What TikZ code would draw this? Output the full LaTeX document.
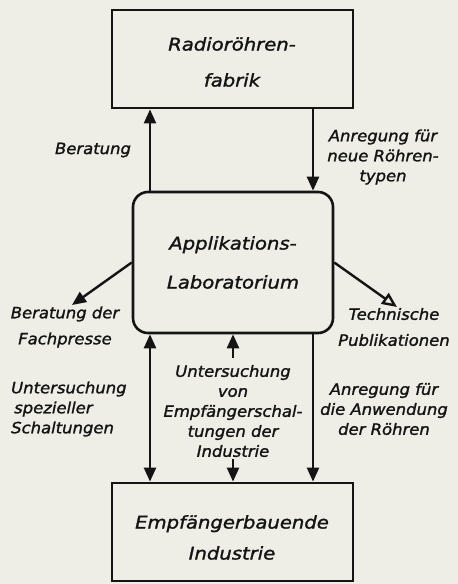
\documentclass[tikz,border=0pt]{standalone}
\usepackage{fontspec}
\newfontfamily\lblfont[FakeStretch=1.06,FakeBold=1.5]{DejaVu Sans}
\newfontfamily\boxfont[FakeStretch=1.12,FakeBold=1.5]{DejaVu Sans}
\usetikzlibrary{arrows.meta}
\definecolor{bgcol}{rgb}{0.935,0.935,0.905}
\definecolor{inkcol}{rgb}{0.08,0.08,0.08}
\begin{document}
\begin{tikzpicture}[x=1pt,y=-1pt,
  boxtext/.style={font=\boxfont\itshape\fontsize{17.5}{36}\selectfont, align=center, inner sep=0pt, text=inkcol},
  lbl/.style={font=\lblfont\itshape\fontsize{15.5}{20}\selectfont, align=center, inner sep=0pt, text=inkcol},
  frame/.style={draw=inkcol, line width=2.8pt, inner sep=0pt},
  conn/.style={draw=inkcol, line width=2.4pt},
  tipE/.style={-{Triangle[length=14pt,width=12pt]}},
  tipO/.style={-{Triangle[open,length=15pt,width=13pt,line width=2.4pt]}},
  tipB/.style={{Triangle[length=14pt,width=12pt]}-{Triangle[length=14pt,width=12pt]}}
]
\useasboundingbox (0,0) rectangle (458,584);
\fill[bgcol] (0,0) rectangle (458,584);

% boxes
\node[frame, minimum width=241pt, minimum height=98pt] (top) at (232.5,59) {};
\node[boxtext] (toptext) at (232,62) {Radioröhren-\\fabrik};

\node[frame, rounded corners=15pt, line width=2.6pt, minimum width=200pt, minimum height=141pt] (lab) at (233,262.5) {};
\node[boxtext, font=\boxfont\itshape\fontsize{17.5}{39}\selectfont] (labtext) at (233,262.5) {Applikations-\\Laboratorium};

\node[frame, minimum width=241pt, minimum height=98pt] (bot) at (232.5,532) {};
\node[boxtext, font=\boxfont\itshape\fontsize{17.5}{31}\selectfont] (bottext) at (232,537.5) {Empfängerbauende\\Industrie};

% x positions
\coordinate (xl) at (150,0);
\coordinate (xm) at (233,0);
\coordinate (xr) at (313,0);
\coordinate (dl) at (72,305);
\coordinate (dr) at (397,307);
\coordinate (mu) at (233,358);
\coordinate (md) at (233,459);

% connectors
\draw[conn, tipE] (xl |- lab.north) -- (xl |- top.south);
\draw[conn, tipE] (xr |- top.south) -- (xr |- lab.north);
\draw[conn, tipE] (lab.west) -- (dl);
\draw[conn, tipO] (lab.east) -- (dr);
\draw[conn, tipB] (xl |- lab.south) -- (xl |- bot.north);
\draw[conn, tipE] (mu) -- (xm |- lab.south);
\draw[conn, tipE] (md) -- (xm |- bot.north);
\draw[conn, tipE] (xr |- lab.south) -- (xr |- bot.north);

% labels
\node[lbl] (l1) at (93,150) {Beratung};
\node[lbl] (l2) at (383,157) {Anregung für\\neue Röhren-\\typen};
\node[lbl, font=\lblfont\itshape\fontsize{15.5}{26}\selectfont] (l3) at (65,327) {Beratung der\\Fachpresse};
\node[lbl, font=\lblfont\itshape\fontsize{15.5}{26}\selectfont] (l4) at (394,327) {Technische\\Publikationen};
\node[lbl, align=left, anchor=west] (l5) at (11,409) {Untersuchung\\\hspace*{3pt}spezieller\\Schaltungen};
\node[lbl] (l6) at (233,411) {Untersuchung\\von\\Empfängerschal-\\tungen der\\Industrie};
\node[lbl] (l7) at (384,409) {Anregung für\\die Anwendung\\der Röhren};
\end{tikzpicture}
\end{document}
